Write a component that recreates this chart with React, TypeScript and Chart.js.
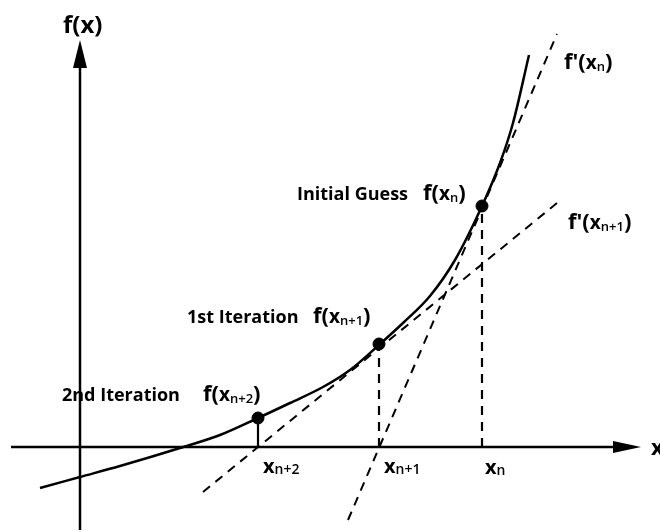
import React, { useEffect, useRef } from "react";
import { Chart, registerables } from "chart.js";

Chart.register(...registerables);

// Curve f(x) sampled values (hand-drawn convex curve)
const curveX = [-0.4, 0.0, 0.4, 1.0, 1.4, 1.78, 2.1, 2.43, 2.7, 3.0, 3.23, 3.5, 3.75, 4.02, 4.2, 4.33, 4.49];
const curveY = [-0.41, -0.3, -0.19, -0.01, 0.12, 0.29, 0.44, 0.6, 0.77, 1.03, 1.24, 1.51, 1.87, 2.41, 2.84, 3.24, 3.92];

// Iteration points x_n, x_{n+1}, x_{n+2} and f values
const iterX = [4.02, 2.99, 1.78];
const iterY = [2.41, 1.03, 0.29];

// Tangent line end points
const tangentNX = [2.68, 4.77];
const tangentNY = [-0.73, 4.13];
const tangentN1X = [1.23, 4.77];
const tangentN1Y = [-0.45, 2.44];

// Axis extents
const xAxisX = [-0.69, 5.36];
const yAxisY = [-0.83, 3.8];
const xArrow = [5.33, 5.61];
const yArrow = [3.79, 4.07];

type Run = { t: string; size: number; dy?: number; weight?: number };
type Label = { x: number; y: number; runs: Run[] };

const FONT = "'Open Sans', sans-serif";

const fx = (sub: string, prime = false): Run[] => [
  { t: prime ? "f'(" : "f(", size: 22 },
  { t: "x", size: 19 },
  { t: sub, size: 13, dy: 2, weight: 600 },
  { t: ")", size: 22 },
];
const xs = (sub: string): Run[] => [
  { t: "x", size: 20 },
  { t: sub, size: 14, dy: 1, weight: 600 },
];

const labels: Label[] = [
  { x: -0.17, y: 4.14, runs: [{ t: "f(x)", size: 24 }] },
  { x: 4.84, y: 3.78, runs: fx("n", true) },
  { x: 4.88, y: 2.18, runs: fx("n+1", true) },
  { x: 2.17, y: 2.47, runs: [{ t: "Initial Guess", size: 18 }] },
  { x: 3.43, y: 2.47, runs: fx("n") },
  { x: 1.07, y: 1.24, runs: [{ t: "1st Iteration", size: 18 }] },
  { x: 2.33, y: 1.24, runs: fx("n+1") },
  { x: -0.18, y: 0.46, runs: [{ t: "2nd Iteration", size: 18 }] },
  { x: 1.23, y: 0.46, runs: fx("n+2") },
  { x: 1.83, y: -0.26, runs: xs("n+2") },
  { x: 3.04, y: -0.26, runs: xs("n+1") },
  { x: 4.05, y: -0.27, runs: xs("n") },
  { x: 5.71, y: -0.08, runs: [{ t: "x", size: 22 }] },
];

const decorPlugin = {
  id: "decor",
  afterDatasetsDraw(chart: any) {
    const { ctx, scales } = chart;
    const sx = scales.x;
    const sy = scales.y;
    ctx.save();
    ctx.fillStyle = "#000";
    // x-axis arrowhead
    const bx = sx.getPixelForValue(xArrow[0]);
    const tx = sx.getPixelForValue(xArrow[1]);
    const y0 = sy.getPixelForValue(0);
    ctx.beginPath();
    ctx.moveTo(bx, y0 - 6);
    ctx.lineTo(tx, y0);
    ctx.lineTo(bx, y0 + 6);
    ctx.closePath();
    ctx.fill();
    // y-axis arrowhead
    const x0 = sx.getPixelForValue(0);
    const by = sy.getPixelForValue(yArrow[0]);
    const ty = sy.getPixelForValue(yArrow[1]);
    ctx.beginPath();
    ctx.moveTo(x0 - 7, by);
    ctx.lineTo(x0, ty);
    ctx.lineTo(x0 + 7, by);
    ctx.closePath();
    ctx.fill();
    // labels
    ctx.textBaseline = "alphabetic";
    ctx.textAlign = "left";
    for (const l of labels) {
      let px = sx.getPixelForValue(l.x);
      const py = sy.getPixelForValue(l.y);
      for (const r of l.runs) {
        ctx.font = `${r.weight ?? 700} ${r.size}px ${FONT}`;
        ctx.fillText(r.t, px, py + (r.dy ?? 0));
        px += ctx.measureText(r.t).width;
      }
    }
    ctx.restore();
  },
};

export default function App() {
  const ref = useRef<HTMLCanvasElement>(null);
  useEffect(() => {
    if (!ref.current) return;
    const pts = (xa: number[], ya: number[]) => xa.map((x, i) => ({ x, y: ya[i] }));
    const dash = [9, 7];
    const base = { showLine: true, pointRadius: 0, borderColor: "#000", backgroundColor: "#000" };
    const chart = new Chart(ref.current, {
      type: "scatter",
      data: {
        datasets: [
          { ...base, data: pts(xAxisX, [0, 0]), borderWidth: 2.5 },
          { ...base, data: pts([0, 0], yAxisY), borderWidth: 2.5 },
          { ...base, data: pts(tangentNX, tangentNY), borderWidth: 2, borderDash: dash },
          { ...base, data: pts(tangentN1X, tangentN1Y), borderWidth: 2, borderDash: dash },
          { ...base, data: pts([iterX[0], iterX[0]], [0, iterY[0]]), borderWidth: 2.2, borderDash: dash },
          { ...base, data: pts([iterX[1], iterX[1]], [0, iterY[1]]), borderWidth: 2.2, borderDash: dash },
          { ...base, data: pts([iterX[2], iterX[2]], [0, iterY[2]]), borderWidth: 2.2 },
          {
            ...base,
            data: pts(curveX, curveY),
            borderWidth: 2.5,
            tension: 0.4,
            cubicInterpolationMode: "monotone",
          },
          { ...base, showLine: false, data: pts(iterX, iterY), pointRadius: 6, pointHoverRadius: 6 },
        ] as any,
      },
      options: {
        animation: false,
        responsive: false,
        events: [],
        layout: { padding: 0, autoPadding: false },
        plugins: { legend: { display: false }, tooltip: { enabled: false } },
        scales: {
          x: { type: "linear", min: -0.8, max: 5.8, display: false },
          y: { type: "linear", min: -0.85, max: 4.47, display: false },
        },
      },
      plugins: [decorPlugin],
    });
    return () => chart.destroy();
  }, []);
  return (
    <div style={{ position: "fixed", left: 0, top: 0, width: 660, height: 532, background: "#fff" }}>
      <canvas ref={ref} width={660} height={532} style={{ display: "block" }} />
    </div>
  );
}
